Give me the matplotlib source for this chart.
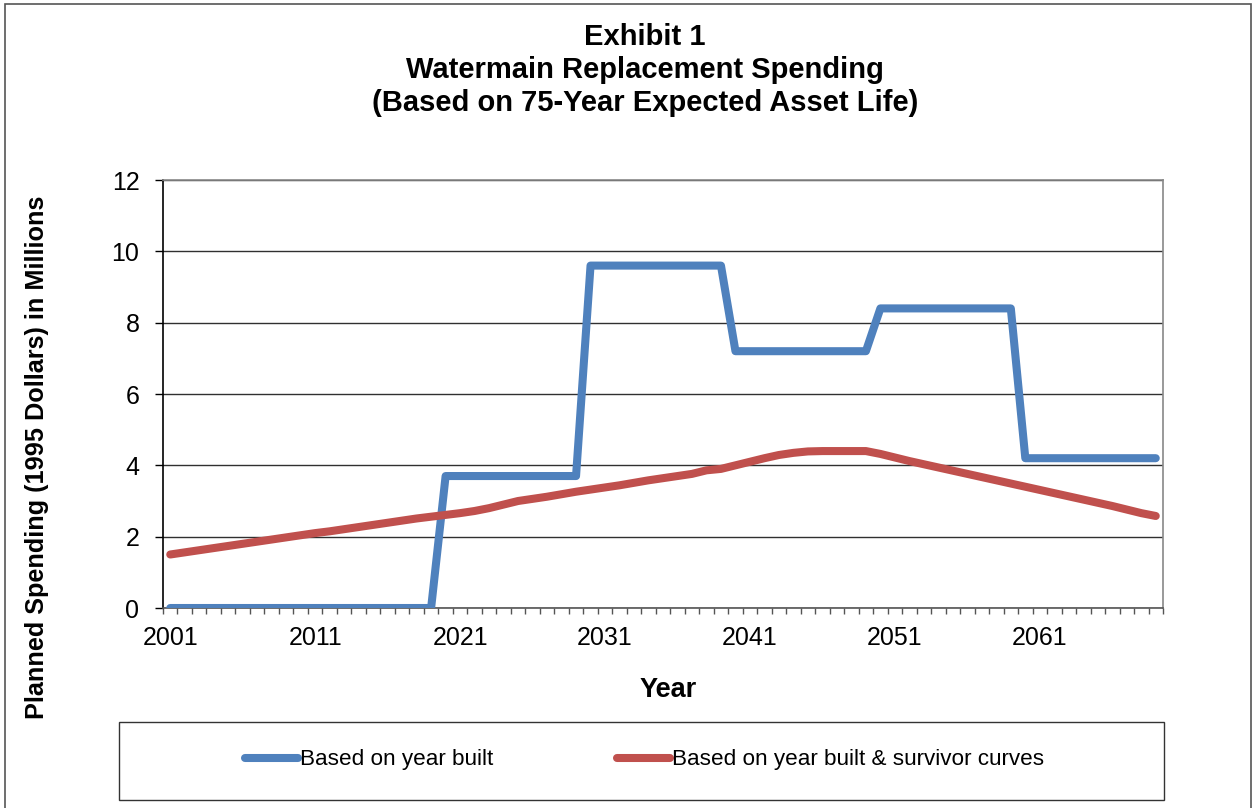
import matplotlib
matplotlib.use("Agg")
import matplotlib.pyplot as plt
from matplotlib.patches import Rectangle
import numpy as np

plt.rcParams['font.family'] = ['Liberation Sans', 'DejaVu Sans']

# data (millions of 1995 dollars)
years = list(range(2001, 2070))
by_year_built = [0, 0, 0, 0, 0, 0, 0, 0, 0, 0,
                 0, 0, 0, 0, 0, 0, 0, 0, 0, 3.7,
                 3.7, 3.7, 3.7, 3.7, 3.7, 3.7, 3.7, 3.7, 3.7, 9.6,
                 9.6, 9.6, 9.6, 9.6, 9.6, 9.6, 9.6, 9.6, 9.6, 7.2,
                 7.2, 7.2, 7.2, 7.2, 7.2, 7.2, 7.2, 7.2, 7.2, 8.4,
                 8.4, 8.4, 8.4, 8.4, 8.4, 8.4, 8.4, 8.4, 8.4, 4.2,
                 4.2, 4.2, 4.2, 4.2, 4.2, 4.2, 4.2, 4.2, 4.2]
with_survivor = [1.50, 1.56, 1.62, 1.68, 1.74, 1.80, 1.86, 1.92, 1.98, 2.04,
                 2.10, 2.15, 2.21, 2.27, 2.33, 2.39, 2.45, 2.51, 2.56, 2.61,
                 2.66, 2.72, 2.80, 2.90, 3.00, 3.06, 3.12, 3.19, 3.26, 3.32,
                 3.38, 3.44, 3.51, 3.58, 3.64, 3.70, 3.76, 3.86, 3.90, 4.00,
                 4.10, 4.20, 4.29, 4.35, 4.39, 4.40, 4.40, 4.40, 4.40, 4.32,
                 4.22, 4.12, 4.03, 3.94, 3.85, 3.76, 3.67, 3.58, 3.49, 3.40,
                 3.31, 3.22, 3.13, 3.04, 2.95, 2.86, 2.76, 2.66, 2.58]
label_years = [2001, 2011, 2021, 2031, 2041, 2051, 2061]

blue = '#4F81BD'
red = '#C0504D'

fig = plt.figure(figsize=(12.59, 8.08), dpi=100)
ax = fig.add_axes([163/1259, 1-608/808, 1000/1259, 428/808])

n = len(years)
x = np.arange(n) + 0.5
l1, = ax.plot(x, by_year_built, color=blue, lw=5.8, solid_joinstyle='round',
              solid_capstyle='round', label='Based on year built', zorder=3)
l2, = ax.plot(x, with_survivor, color=red, lw=5.8, solid_joinstyle='round',
              solid_capstyle='round', label='Based on year built & survivor curves', zorder=3)

ax.set_xlim(0, n)
ax.set_ylim(0, 12)
ax.set_yticks(range(0, 13, 2))
ax.grid(axis='y', color='#303030', lw=1)
ax.set_axisbelow(True)

# labels centred on categories, tick marks between categories
ax.set_xticks([years.index(y) + 0.5 for y in label_years])
ax.set_xticklabels([str(y) for y in label_years])
ax.set_xticks(np.arange(n + 1), minor=True)
ax.tick_params(axis='x', which='major', length=0, pad=13, labelsize=18)
ax.tick_params(axis='x', which='minor', length=4.5, width=1, color='#555555', direction='out')
ax.tick_params(axis='y', length=6, width=1, pad=11, labelsize=18)

ax.spines['left'].set_color('black')
ax.spines['bottom'].set_color('#555555')
ax.spines['top'].set_color('#888888')
ax.spines['right'].set_color('#888888')
for s in ax.spines.values():
    s.set_linewidth(1.2)

fig.text(645/1259, 1-37/808, 'Exhibit 1', ha='center', va='center', fontsize=21, weight='bold')
fig.text(645/1259, 1-70/808, 'Watermain Replacement Spending', ha='center', va='center', fontsize=21, weight='bold')
fig.text(645/1259, 1-103/808, '(Based on 75-Year Expected Asset Life)', ha='center', va='center', fontsize=21, weight='bold')

fig.text(37/1259, 1-457/808, 'Planned Spending (1995 Dollars) in Millions', rotation=90,
         ha='center', va='center', fontsize=18.2, weight='bold')
fig.text(668/1259, 1-690/808, 'Year', ha='center', va='center', fontsize=19.5, weight='bold')

# legend box and outer chart border
fig.patches.append(Rectangle((119/1259, 1-800/808), 1045/1259, 78/808, transform=fig.transFigure,
                             fill=False, edgecolor='#333333', lw=1))
fig.patches.append(Rectangle((5/1259, -0.01), 1246/1259, 1-4/808+0.01, transform=fig.transFigure,
                             fill=False, edgecolor='#555555', lw=1.2))
fig.legend(handles=[l1, l2], loc='center', bbox_to_anchor=(644.5/1259, 1-760/808), ncol=2,
           frameon=False, fontsize=16.2, handlelength=2.35, handletextpad=0.1, columnspacing=5.5)

plt.savefig('out.png', dpi=100)
